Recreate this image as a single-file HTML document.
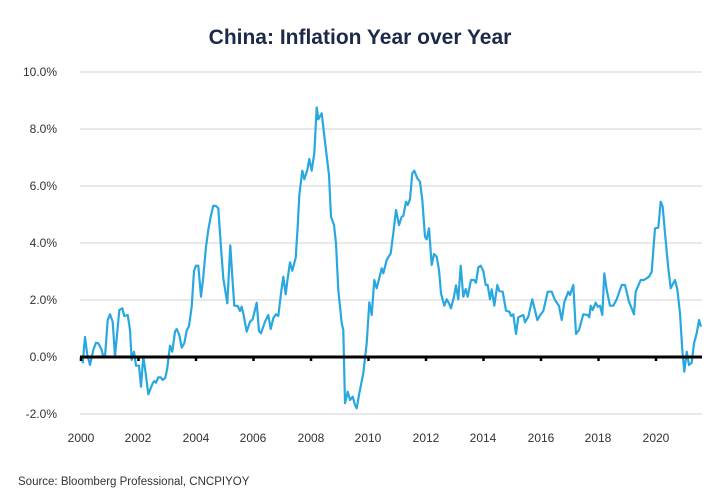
<!DOCTYPE html>
<html><head><meta charset="utf-8"><style>
body{margin:0;background:#fff;}
svg{display:block;font-family:"Liberation Sans",sans-serif;}
</style></head><body>
<svg width="720" height="500" viewBox="0 0 720 500">
<rect width="720" height="500" fill="#fff"/>
<text x="360" y="44" text-anchor="middle" font-size="21" font-weight="bold" fill="#1c2a48">China: Inflation Year over Year</text>
<g stroke="#e2e2e2" stroke-width="1.5">
<line x1="80" x2="702" y1="72" y2="72"/><line x1="80" x2="702" y1="129" y2="129"/>
<line x1="80" x2="702" y1="186" y2="186"/><line x1="80" x2="702" y1="243" y2="243"/>
<line x1="80" x2="702" y1="300" y2="300"/><line x1="80" x2="702" y1="414" y2="414"/>
</g>
<g font-size="12" fill="#333" text-anchor="end">
<text x="57" y="76">10.0%</text><text x="57" y="133">8.0%</text><text x="57" y="190">6.0%</text>
<text x="57" y="247">4.0%</text><text x="57" y="304">2.0%</text><text x="57" y="361">0.0%</text>
<text x="57" y="418">-2.0%</text>
</g>
<g font-size="12" fill="#333" text-anchor="middle">
<text x="81" y="442">2000</text><text x="138" y="442">2002</text><text x="196" y="442">2004</text>
<text x="253" y="442">2006</text><text x="311" y="442">2008</text><text x="368" y="442">2010</text>
<text x="426" y="442">2012</text><text x="483" y="442">2014</text><text x="541" y="442">2016</text>
<text x="598" y="442">2018</text><text x="656" y="442">2020</text>
</g>
<polyline fill="none" stroke="#29a8e0" stroke-width="2.2" stroke-linejoin="round" points="82.7,363.3 85,337 87.3,355 90,365 93.3,350 96,342.7 98.3,343.3 101.7,350 103.3,356.7 105,356.7 107.7,320 110,314.3 112.7,321.7 115,356.7 119.3,310 122.3,308.3 124.3,316 127.7,315 130,330 131.7,360 134,351.7 136,365.7 139,365.7 141,386.7 143.3,356.7 145.7,373.3 148.3,394.3 152.7,383.3 154.3,381 156,382.7 158.3,377.3 160.7,377.3 162.7,380 165.3,377.7 167.3,368.3 170,345.7 172.3,351.7 175,331.7 176.7,329 179.3,335 181.7,347.7 184.3,343.3 186.7,330.7 189,326 191.7,306.7 194,271 196,265.7 198.3,265.7 201,296.7 203.3,276.7 206,246.7 208.3,230 210.7,216.7 213.3,205.7 216,206 218.3,208.3 220.7,243.3 223.3,278.3 227.3,303.3 230.3,245.3 232.3,276.7 234.3,305.7 237.7,306 240,311 241.7,306.7 243.3,313.3 246.7,331.7 250,321.7 252.7,319.3 256.7,302.7 259,331 261,333.3 265,321.7 268.3,315 270.7,329 273.3,318.3 276,314.3 278.3,316 281,293.3 283.3,276.7 285.7,294.3 287.7,278.3 290,262.3 292.3,270.7 295.7,257.7 297.7,226.7 299.3,195 302.3,170.7 304.3,179.3 307.3,170 309.3,159 311.7,170.7 314.3,153.3 316.7,107.3 318.3,119.3 321.7,113.3 325,141.7 329,175 331,216.7 334,225 336,243.3 338.3,290 341.7,323.3 343.3,330 345,403.3 347.7,391.7 350,400 352.7,396.7 355,405 356.7,408.3 359.3,393.3 363.3,373.3 366.7,343.3 369.3,302.3 371.7,315 374.3,280 376.7,288.3 381.7,268.3 383.3,273.3 386.7,260 390.7,253.3 393.3,233.3 396,210 399,225 401.7,216.7 403.3,216 406,201.7 407.7,205 410,199.3 412.3,173.3 414.3,170.7 417.3,178.3 420,181.7 422.3,200 425,236.7 426.7,239.3 429,228.3 431.7,265 434,254 436.7,256.7 439,270 441,293.3 444.3,305.7 446.7,299.3 449,303.3 451,308.3 454,296.7 456,285.3 458.3,299.3 460.7,265.7 463.3,296.7 465.7,289 467.7,296.7 471,280 474,280 476,282.7 478.3,267.3 480.7,265.7 483.3,270.7 485.7,285 487.7,285 490,299.3 491.7,289.3 494.3,305.7 497.3,285 499.3,291 502.7,291.7 506,310.7 509.3,311.7 511,316 513.3,314.3 516,334 518.3,317.3 523.3,315 525,322.3 528.3,316.7 532.3,299.3 537.3,320 540.7,314.3 543.3,311 547.7,291.7 551.7,291.7 555,300 559,306 561.7,320 564.3,302.3 568.3,291.7 570,295 573.3,285 576,334 579,330 583.3,314.3 587.7,315 589.3,317.3 590.7,305.7 592.7,310 595.7,302.7 597.7,306.7 600,305.7 602.3,315 604.3,273.3 606.7,290 610,305.7 613.3,305.7 616.7,299.3 621.7,285 625,285 629,301.7 634,314.3 635.7,291.7 640.7,280 644,280 649,276.7 651.7,271.7 655,228.3 658.3,227.7 660.7,201.7 662.7,206.7 665,233.3 668.3,268.3 670.7,288.3 675,280 677.3,289.3 680,313.3 682.3,350 684.3,371.7 686.7,351.7 689,365 691.7,362.7 694,343.3 696.7,333.3 699,320 701,326.7"/>
<line x1="80" x2="702" y1="357" y2="357" stroke="#000" stroke-width="3"/>
<g stroke="#000" stroke-width="2.5">
<line x1="81" x2="81" y1="357" y2="361"/><line x1="138.5" x2="138.5" y1="357" y2="361"/><line x1="196" x2="196" y1="357" y2="361"/>
<line x1="253.5" x2="253.5" y1="357" y2="361"/><line x1="311" x2="311" y1="357" y2="361"/><line x1="368.5" x2="368.5" y1="357" y2="361"/>
<line x1="426" x2="426" y1="357" y2="361"/><line x1="483.5" x2="483.5" y1="357" y2="361"/><line x1="541" x2="541" y1="357" y2="361"/>
<line x1="598.5" x2="598.5" y1="357" y2="361"/><line x1="656" x2="656" y1="357" y2="361"/>
</g>
<text x="18" y="485" font-size="11.5" fill="#333">Source: Bloomberg Professional, CNCPIYOY</text>
</svg>
</body></html>
